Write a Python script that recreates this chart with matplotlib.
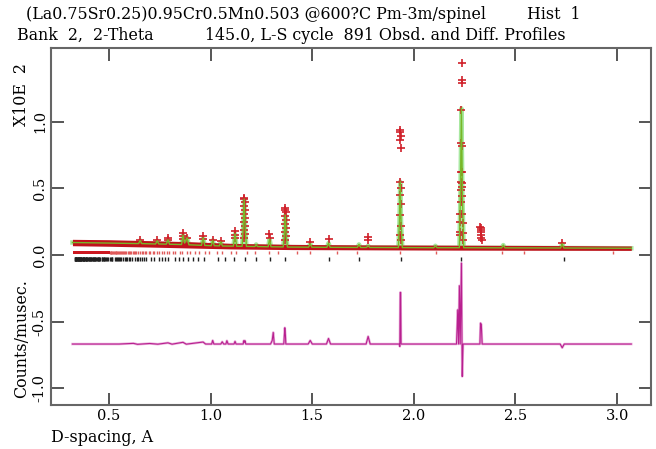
import numpy as np
import matplotlib
matplotlib.use('Agg')
import matplotlib.pyplot as plt

# noise band of the observed background (lower / upper edge)
band_d = [0.32, 0.50, 0.70, 0.90, 1.10, 1.40, 1.80, 2.20, 2.60, 3.07]
band_lo = [0.070, 0.066, 0.060, 0.053, 0.046, 0.041, 0.039, 0.037, 0.036, 0.035]
band_hi = [0.118, 0.115, 0.108, 0.100, 0.088, 0.080, 0.076, 0.074, 0.072, 0.068]

# calculated profile
calc_d = [0.32, 0.50, 0.645, 0.653, 0.661, 0.729, 0.737, 0.745, 0.782, 0.790, 0.798,
          0.857, 0.864, 0.872, 0.884, 0.893, 0.955, 0.963, 0.971, 1.003, 1.010, 1.018,
          1.043, 1.050, 1.058, 1.112, 1.120, 1.128, 1.155, 1.160, 1.165, 1.170, 1.176,
          1.218, 1.224, 1.230, 1.283, 1.290, 1.297, 1.357, 1.362, 1.367, 1.372, 1.378,
          1.482, 1.490, 1.498, 1.572, 1.580, 1.588, 1.722, 1.730, 1.738, 1.767, 1.775,
          1.783, 1.924, 1.929, 1.933, 1.937, 1.943, 2.098, 2.106, 2.114, 2.224, 2.229,
          2.234, 2.239, 2.245, 2.432, 2.440, 2.448, 2.722, 2.730, 2.738, 3.07]
calc_i = [0.094, 0.090, 0.086, 0.110, 0.086, 0.083, 0.108, 0.083, 0.082, 0.115, 0.081,
          0.079, 0.150, 0.090, 0.130, 0.077, 0.073, 0.130, 0.072, 0.070, 0.110, 0.070,
          0.069, 0.100, 0.068, 0.067, 0.160, 0.066, 0.066, 0.200, 0.420, 0.200, 0.065,
          0.064, 0.080, 0.064, 0.062, 0.120, 0.062, 0.061, 0.140, 0.300, 0.140, 0.060,
          0.059, 0.085, 0.059, 0.058, 0.090, 0.058, 0.057, 0.080, 0.057, 0.057, 0.070,
          0.057, 0.056, 0.250, 0.550, 0.250, 0.056, 0.055, 0.070, 0.055, 0.055, 0.450,
          1.100, 0.450, 0.055, 0.054, 0.075, 0.054, 0.053, 0.085, 0.053, 0.051]

# observed points standing above the background
obs_d = [0.652, 0.738, 0.789, 0.791, 0.862, 0.864, 0.866, 0.885, 0.962, 0.964, 1.010, 1.050,
         1.119, 1.120, 1.122,
         1.162, 1.163, 1.164, 1.165, 1.165, 1.166, 1.166, 1.167, 1.168, 1.168, 1.169, 1.170,
         1.289, 1.291, 1.364, 1.365, 1.366, 1.367, 1.367, 1.368, 1.369, 1.369, 1.370, 1.371,
         1.490, 1.580, 1.774, 1.776,
         1.930, 1.931, 1.932, 1.933, 1.933, 1.934, 1.934, 1.935, 1.935, 1.936, 1.936, 1.937, 1.938,
         2.226, 2.227, 2.228, 2.229, 2.230, 2.231, 2.232, 2.233, 2.234, 2.234, 2.235, 2.235,
         2.236, 2.236, 2.237, 2.237, 2.238, 2.238, 2.239, 2.240, 2.241, 2.242,
         2.327, 2.328, 2.329, 2.330, 2.331, 2.332, 2.333, 2.730]
obs_i = [0.115, 0.112, 0.125, 0.110, 0.140, 0.165, 0.120, 0.130, 0.140, 0.120, 0.115, 0.105,
         0.150, 0.180, 0.125,
         0.130, 0.190, 0.250, 0.310, 0.370, 0.430, 0.420, 0.400, 0.340, 0.280, 0.220, 0.160,
         0.155, 0.130, 0.110, 0.170, 0.230, 0.290, 0.350, 0.340, 0.320, 0.260, 0.200, 0.140,
         0.100, 0.120, 0.135, 0.110,
         0.150, 0.300, 0.450, 0.550, 0.860, 0.940, 0.920, 0.890, 0.800, 0.500, 0.380, 0.220, 0.110,
         0.150, 0.175, 0.250, 0.310, 0.400, 0.487, 0.550, 0.620, 0.840, 1.090, 1.290, 1.440,
         1.310, 0.820, 0.620, 0.540, 0.510, 0.440, 0.310, 0.240, 0.165, 0.110,
         0.210, 0.200, 0.190, 0.170, 0.150, 0.130, 0.110, 0.090]

# difference curve (obs - calc), offset below the pattern
diff_d = [0.32, 0.55, 0.62, 0.64, 0.70, 0.74, 0.79, 0.81, 0.864, 0.88, 0.963, 0.975,
          1.005, 1.010, 1.016, 1.050, 1.057, 1.064, 1.075, 1.080, 1.086, 1.115, 1.120, 1.125,
          1.160, 1.163, 1.166, 1.169, 1.173, 1.295, 1.303, 1.308, 1.313, 1.360, 1.365,
          1.368, 1.370, 1.480, 1.490, 1.500, 1.570, 1.580, 1.590, 1.765, 1.775, 1.785,
          1.928, 1.931, 1.933, 1.935, 1.937, 2.210, 2.216, 2.220, 2.224, 2.228, 2.234,
          2.238, 2.242, 2.325, 2.328, 2.332, 2.336, 2.720, 2.730, 2.740, 3.07]
diff_i = [-0.667, -0.667, -0.662, -0.669, -0.663, -0.668, -0.658, -0.668, -0.654, -0.668,
          -0.652, -0.667, -0.667, -0.640, -0.667, -0.667, -0.650, -0.667, -0.667, -0.642,
          -0.667, -0.667, -0.647, -0.667, -0.667, -0.642, -0.654, -0.642, -0.667, -0.667,
          -0.640, -0.580, -0.667, -0.667, -0.545, -0.600, -0.667, -0.667, -0.640, -0.667,
          -0.667, -0.625, -0.667, -0.667, -0.610, -0.667, -0.667, -0.685, -0.280, -0.280,
          -0.667, -0.667, -0.410, -0.667, -0.230, -0.667, -0.060, -0.910, -0.667, -0.667,
          -0.510, -0.520, -0.667, -0.667, -0.695, -0.667, -0.667]

# reflection markers: Pm-3m perovskite (black) and spinel (red)
perov_d = [2.737, 2.234, 1.935, 1.731, 1.580, 1.368, 1.290, 1.224, 1.167, 1.117, 1.073,
           1.034, 0.968, 0.939, 0.912, 0.888, 0.865, 0.845, 0.825, 0.790, 0.774, 0.759,
           0.745, 0.719, 0.707, 0.684, 0.674, 0.664, 0.654, 0.645, 0.636, 0.628, 0.612,
           0.604, 0.597, 0.590, 0.583, 0.577, 0.571, 0.559, 0.553, 0.547, 0.542, 0.537,
           0.532, 0.527, 0.517, 0.513, 0.508, 0.504, 0.496, 0.491, 0.484, 0.480, 0.476,
           0.473, 0.469, 0.466, 0.463, 0.456, 0.453, 0.450, 0.447, 0.444, 0.441, 0.438,
           0.433, 0.430, 0.427, 0.425, 0.422, 0.420, 0.417, 0.413, 0.410, 0.408, 0.406,
           0.401, 0.399, 0.395, 0.393, 0.391, 0.389, 0.387, 0.385, 0.383, 0.379, 0.378,
           0.376, 0.374, 0.372, 0.371, 0.369, 0.364, 0.362, 0.361, 0.359, 0.358, 0.356,
           0.353, 0.352, 0.350, 0.349, 0.346, 0.345, 0.342, 0.341, 0.339, 0.338, 0.337,
           0.336, 0.334, 0.332, 0.331]
spinel_d = [2.980, 2.542, 2.434, 2.108, 1.934, 1.721, 1.622, 1.490, 1.425, 1.333, 1.286,
            1.217, 1.180, 1.127, 1.098, 1.054, 1.030, 0.993, 0.973, 0.942, 0.925, 0.899,
            0.884, 0.860, 0.847, 0.827, 0.815, 0.797, 0.786, 0.770, 0.760, 0.745, 0.737,
            0.723, 0.715, 0.703, 0.695, 0.684, 0.677, 0.666, 0.660, 0.650, 0.645, 0.635,
            0.630, 0.621, 0.616, 0.608, 0.604, 0.596, 0.592, 0.585, 0.580, 0.574, 0.570,
            0.563, 0.560, 0.553, 0.550, 0.544, 0.541, 0.535, 0.532, 0.527, 0.524, 0.519,
            0.516, 0.511, 0.508, 0.504]
spinel_dense = (0.322, 0.505)   # markers merge into a solid bar below this

xticks = [0.5, 1.0, 1.5, 2.0, 2.5, 3.0]
yticks = [-1.0, -0.5, 0.0, 0.5, 1.0]

serif = 'DejaVu Serif'
fs = 11.4
fig = plt.figure(figsize=(6.56, 4.49), dpi=100)
ax = fig.add_axes([0.0777, 0.098, 0.9147, 0.795])

# wide pale green under the observed band, thin green on top
ax.plot(calc_d, calc_i, color='#a8e8a0', lw=3.2, zorder=2)
ax.fill_between(band_d, band_lo, band_hi, color='#c0121c', lw=0, zorder=3)
ax.plot(obs_d, obs_i, ls='none', marker='+', ms=5.5, mew=1.2, color='#d0202a', zorder=4)
ax.plot(calc_d, calc_i, color='#78b828', lw=1.0, zorder=5)

ax.vlines(perov_d, -0.045, -0.012, color='#202020', lw=1.0, zorder=3)
ax.vlines(spinel_d, 0.005, 0.032, color='#e05a5a', lw=1.0, zorder=3)
ax.fill_between(spinel_dense, 0.005, 0.032, color='#cc1820', lw=0, zorder=3)

ax.plot(diff_d, diff_i, color='#eab0dc', lw=1.8, zorder=3)
ax.plot(diff_d, diff_i, color='#b8208f', lw=0.8, zorder=4)

ax.set_xlim(0.2143, 3.167)
ax.set_ylim(-1.124, 1.552)
ax.set_xticks(xticks)
ax.set_yticks(yticks)
ax.set_xticklabels(['%.1f' % v for v in xticks], family=serif, fontsize=10.5)
ax.set_yticklabels(['%.1f' % v for v in yticks], family=serif, fontsize=10.5,
                   rotation=90, va='center')
ax.tick_params(direction='in', length=9, width=1.4, color='#555555',
               top=True, right=True)
ax.tick_params(axis='y', pad=3)
ax.tick_params(axis='x', pad=3)
for s in ax.spines.values():
    s.set_color('#666666')
    s.set_linewidth(1.5)

fig.text(0.033, 0.245, 'Counts/musec.', family=serif, fontsize=fs,
         rotation=90, ha='center', va='center')
fig.text(0.033, 0.790, 'X10E  2', family=serif, fontsize=fs,
         rotation=90, ha='center', va='center')
fig.text(0.078, 0.026, 'D-spacing, A', family=serif, fontsize=fs, ha='left', va='center')
fig.text(26 / 656, 0.967, '(La0.75Sr0.25)0.95Cr0.5Mn0.503 @600?C Pm-3m/spinel',
         family=serif, fontsize=fs, ha='left', va='center')
fig.text(527 / 656, 0.967, 'Hist  1', family=serif, fontsize=fs, ha='left', va='center')
fig.text(17 / 656, 0.922, 'Bank  2,  2-Theta', family=serif, fontsize=fs,
         ha='left', va='center')
fig.text(566 / 656, 0.922, '145.0, L-S cycle  891 Obsd. and Diff. Profiles',
         family=serif, fontsize=fs, ha='right', va='center')

fig.savefig('out.png', dpi=100)
